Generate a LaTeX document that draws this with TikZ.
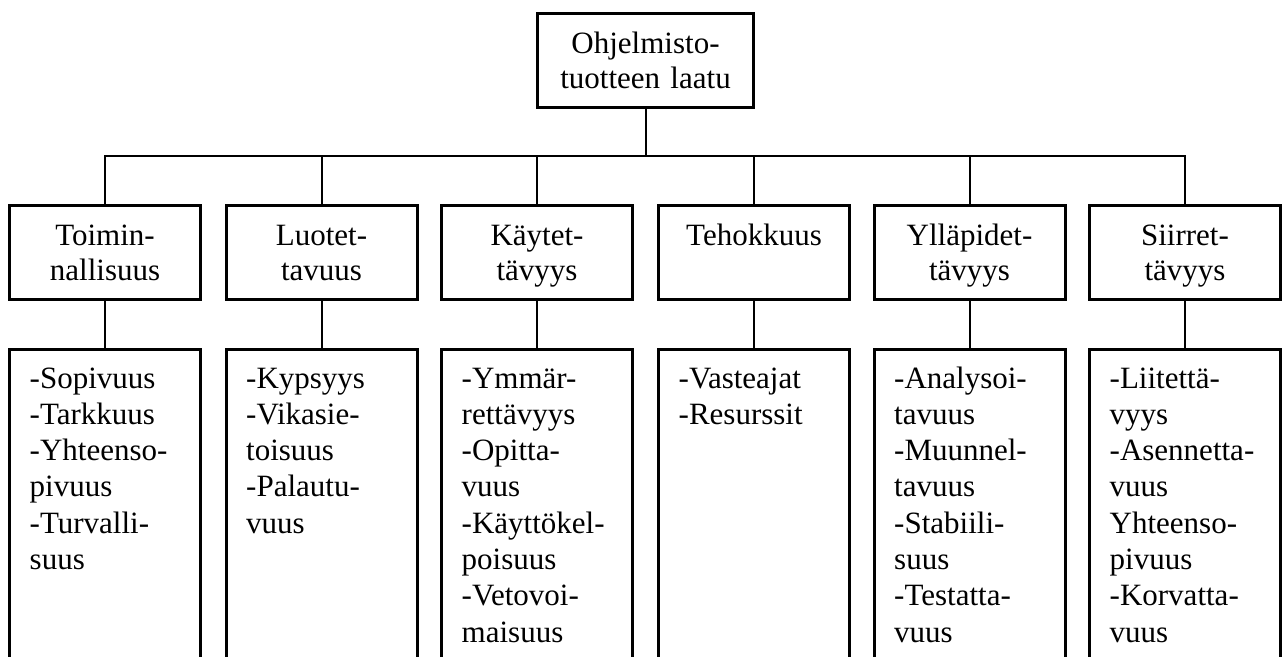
\documentclass[tikz,border=0pt]{standalone}
\usepackage{fontspec}
\setmainfont{Liberation Serif}
\begin{document}
\begin{tikzpicture}[x=1pt,y=-1pt,
  box/.style={draw, line width=3pt, outer sep=0pt, inner sep=0pt,
    minimum width=191pt, minimum height=94pt, anchor=north},
  listbox/.style={box, minimum height=330pt},
  link/.style={line width=2pt},
  head/.style={inner sep=0pt, text width=186pt, align=center, anchor=base,
    font=\fontsize{31}{35.5}\selectfont},
  items/.style={inner sep=0pt, text width=170pt, align=left, anchor=base west,
    font=\fontsize{31}{36.3}\selectfont},
]
\clip (0,0) rectangle (1282,656);
\fill[white] (0,0) rectangle (1282,656);

% root
\node[box, minimum width=216pt] (root) at (645.5,13.8) {};
\node[head, text width=210pt] (rootT) at ([yshift=-39.5pt]root.north)
  {Ohjelmisto-\\tuotteen laatu};
\coordinate (jn) at (645.5,156);

% characteristics
\node[box] (c1) at (105,205.5) {};
\node[box] (c2) at (321.5,205.5) {};
\node[box] (c3) at (537,205.5) {};
\node[box] (c4) at (754,205.5) {};
\node[box] (c5) at (969.5,205.5) {};
\node[box] (c6) at (1185,205.5) {};

\node[head] (c1T) at ([yshift=-39.5pt]c1.north) {Toimin-\\nallisuus};
\node[head] (c2T) at ([yshift=-39.5pt]c2.north) {Luotet-\\tavuus};
\node[head] (c3T) at ([yshift=-39.5pt]c3.north) {Käytet-\\tävyys};
\node[head] (c4T) at ([yshift=-39.5pt]c4.north) {Tehokkuus};
\node[head] (c5T) at ([yshift=-39.5pt]c5.north) {Ylläpidet-\\tävyys};
\node[head] (c6T) at ([yshift=-39.5pt]c6.north) {Siirret-\\tävyys};

% sub-characteristics
\node[listbox] (s1) at (105,349) {};
\node[listbox] (s2) at (321.5,349) {};
\node[listbox] (s3) at (537,349) {};
\node[listbox] (s4) at (754,349) {};
\node[listbox] (s5) at (969.5,349) {};
\node[listbox] (s6) at (1185,349) {};

\node[items] (s1T) at ([xshift=20pt,yshift=-39pt]s1.north west)
  {-Sopivuus\\-Tarkkuus\\-Yhteenso-\\pivuus\\-Turvalli-\\suus};
\node[items] (s2T) at ([xshift=20pt,yshift=-39pt]s2.north west)
  {-Kypsyys\\-Vikasie-\\toisuus\\-Palautu-\\vuus};
\node[items] (s3T) at ([xshift=20pt,yshift=-39pt]s3.north west)
  {-Ymmär-\\rettävyys\\-Opitta-\\vuus\\-Käyttökel-\\poisuus\\-Vetovoi-\\maisuus};
\node[items] (s4T) at ([xshift=20pt,yshift=-39pt]s4.north west)
  {-Vasteajat\\-Resurssit};
\node[items] (s5T) at ([xshift=20pt,yshift=-39pt]s5.north west)
  {-Analysoi-\\tavuus\\-Muunnel-\\tavuus\\-Stabiili-\\suus\\-Testatta-\\vuus};
\node[items] (s6T) at ([xshift=20pt,yshift=-39pt]s6.north west)
  {-Liitettä-\\vyys\\-Asennetta-\\vuus\\Yhteenso-\\pivuus\\-Korvatta-\\vuus};

% connectors
\draw[link] (root.south) -- (jn);
\foreach \i in {1,...,6}{
  \draw[link] (c\i.north) |- (jn);
  \draw[link] (c\i.south) -- (s\i.north);
}
\end{tikzpicture}
\end{document}
